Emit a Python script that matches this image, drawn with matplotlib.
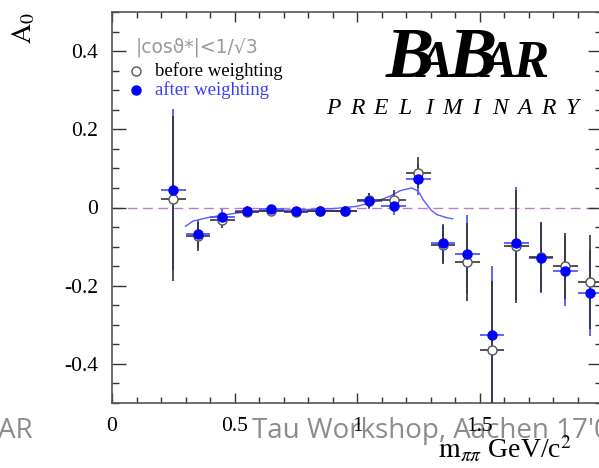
import matplotlib
matplotlib.use("Agg")
import matplotlib.pyplot as plt
from matplotlib.lines import Line2D
from matplotlib.ticker import MultipleLocator

plt.rcParams["font.family"] = ["Liberation Serif", "DejaVu Serif"]
plt.rcParams["mathtext.fontset"] = "stix"

# DATA
m_pipi = [0.25, 0.35, 0.45, 0.55, 0.65, 0.75, 0.85, 0.95, 1.05,
          1.15, 1.25, 1.35, 1.45, 1.55, 1.65, 1.75, 1.85, 1.95]
bin_half = 0.05

a0_before = [0.023, -0.074, -0.033, -0.012, -0.008, -0.011, -0.010, -0.010, 0.018,
             0.020, 0.089, -0.095, -0.140, -0.364, -0.099, -0.127, -0.149, -0.191]
err_before = [0.210, 0.036, 0.020, 0.012, 0.010, 0.010, 0.010, 0.012, 0.020,
              0.025, 0.040, 0.050, 0.100, 0.175, 0.145, 0.090, 0.085, 0.120]

a0_after = [0.046, -0.068, -0.025, -0.008, -0.005, -0.009, -0.009, -0.008, 0.016,
            0.005, 0.072, -0.091, -0.120, -0.326, -0.092, -0.129, -0.162, -0.219]
err_after = [0.205, 0.036, 0.020, 0.012, 0.010, 0.010, 0.010, 0.012, 0.020,
             0.025, 0.040, 0.050, 0.100, 0.176, 0.145, 0.090, 0.090, 0.110]

# fitted curve, traced by eye
fit_x = [0.30, 0.33, 0.39, 0.45, 0.51, 0.60, 0.75, 0.90, 1.00, 1.08,
         1.135, 1.176, 1.223, 1.25, 1.27, 1.30, 1.325, 1.366, 1.39]
fit_y = [-0.048, -0.035, -0.026, -0.020, -0.014, -0.009, -0.006, -0.003, 0.003, 0.016,
         0.029, 0.043, 0.050, 0.042, 0.020, -0.005, -0.018, -0.026, -0.029]

W, H = 599, 468
fig = plt.figure(figsize=(W / 100, H / 100), dpi=100)
ax = fig.add_axes([112 / W, 1 - 403 / H, 490 / W, 391 / H])


def fx(px):
    return px / W


def fy(py):
    return 1 - py / H


ax.axhline(0, color="#c07cc8", lw=1.0, ls=(0, (7, 4)), zorder=1)
ax.plot(fit_x, fit_y, color="#5a5aff", lw=1.0, zorder=2)

ax.errorbar(m_pipi, a0_after, xerr=bin_half, yerr=err_after, fmt="none",
            ecolor="#5555ff", elinewidth=1.3, capsize=0, zorder=3)
ax.errorbar(m_pipi, a0_before, xerr=bin_half, yerr=err_before, fmt="none",
            ecolor="#333333", elinewidth=1.2, capsize=0, zorder=4)
ax.plot(m_pipi, a0_before, "o", ms=6.5, mfc="white", mec="#555555", mew=1.0,
        ls="none", zorder=5)
ax.plot(m_pipi, a0_after, "o", ms=6.5, mfc="#0000ff", mec="#0000ff",
        ls="none", zorder=6)

ax.set_xlim(0, 2)
ax.set_ylim(-0.5, 0.5)
ax.set_xticks([0, 0.5, 1, 1.5, 2])
ax.set_xticklabels(["0", "0.5", "1", "1.5", ""])
ax.set_yticks([-0.4, -0.2, 0, 0.2, 0.4])
ax.set_yticklabels(["-0.4", "-0.2", "0", "0.2", "0.4"])
ax.xaxis.set_minor_locator(MultipleLocator(0.1))
ax.yaxis.set_minor_locator(MultipleLocator(0.05))
ax.tick_params(axis="both", which="both", direction="in", top=True, right=True,
               color="#333333", width=1.0, labelsize=15.5)
ax.tick_params(axis="x", which="major", length=7, pad=10)
ax.tick_params(axis="x", which="minor", length=4)
ax.tick_params(axis="y", which="major", length=10, pad=10)
ax.tick_params(axis="y", which="minor", length=5)
for s in ax.spines.values():
    s.set_color("#555555")
    s.set_linewidth(1.2)

# axis titles
fig.text(fx(24), fy(28), r"$\mathrm{A_0}$", rotation=90, fontsize=20,
         ha="center", va="center")
fig.text(fx(438), fy(458), r"$\mathrm{m}_{\pi\pi}$ GeV/c$^2$", fontsize=20,
         ha="left", va="baseline")

# legend
fig.text(fx(136), fy(47), "|cos\u03d1*|<1/\u221a3", family="DejaVu Sans",
         color="#9a9a9a", fontsize=13.5, ha="left", va="center")
fig.add_artist(Line2D([fx(136)], [fy(71)], marker="o", ms=6.5, mfc="white",
                      mec="#555555", mew=1.0, ls="none", transform=fig.transFigure))
fig.add_artist(Line2D([fx(136)], [fy(90)], marker="o", ms=6.5, mfc="#0000ff",
                      mec="#0000ff", ls="none", transform=fig.transFigure))
fig.text(fx(155), fy(71), "before weighting", fontsize=13.5, color="black",
         ha="left", va="center")
fig.text(fx(155), fy(90), "after weighting", fontsize=13.5, color="#3a3aff",
         ha="left", va="center")

# BaBar logo
logo = dict(weight="bold", style="italic", color="black", va="baseline", ha="left")
fig.text(fx(386), fy(77), "B", fontsize=52, **logo)
fig.text(fx(418), fy(77), "A", fontsize=38, **logo)
fig.text(fx(449), fy(77), "B", fontsize=52, **logo)
fig.text(fx(482), fy(77), "A", fontsize=38, **logo)
fig.text(fx(513), fy(77), "R", fontsize=38, **logo)
for i, ch in enumerate("PRELIMINARY"):
    fig.text(fx(333 + i * 23.9), fy(114), ch, fontsize=17, style="italic",
             ha="center", va="baseline")

# slide footer bleeding into the picture (sits behind the tick labels)
foot = dict(family="Open Sans", color="#8c8c8c", fontsize=20, va="baseline",
            ha="left", zorder=-1)
fig.text(fx(-2), fy(438), "AR", **foot)
fig.text(fx(252), fy(438), "Tau Workshop, Aachen 17'0", **foot)

fig.savefig("out.png", dpi=100)
